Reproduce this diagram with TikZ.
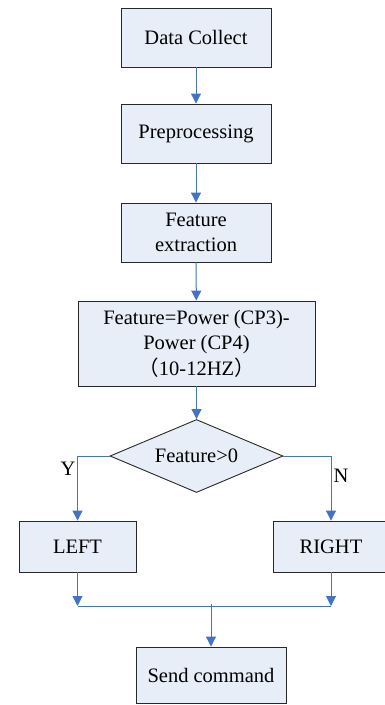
\documentclass[tikz,border=0pt]{standalone}
\usepackage{fontspec}
\setmainfont{Liberation Serif}
\newfontfamily\cjk{Noto Sans CJK SC}
\usetikzlibrary{shapes.geometric,arrows.meta}
\definecolor{boxfill}{RGB}{232,238,248}
\definecolor{boxline}{RGB}{40,40,40}
\definecolor{arr}{RGB}{68,114,196}
\tikzset{
  pbox/.style={draw=boxline, fill=boxfill, line width=0.9pt, align=center, inner sep=0pt,
    font=\fontsize{20.5}{25.5}\selectfont},
  dbox/.style={pbox, shape=diamond, aspect=2.4},
  conn/.style={draw=arr, line width=1pt},
  carr/.style={conn, -{Triangle[width=10pt,length=10pt]}},
  lbl/.style={font=\fontsize{20.5}{25.5}\selectfont, inner sep=0pt}
}
\begin{document}
\begin{tikzpicture}[x=1pt,y=-1pt]
\useasboundingbox (0,0) rectangle (385,705);
\node[pbox, minimum width=150pt, minimum height=59pt] (b1) at (196,37.5) {Data Collect};
\node[pbox, minimum width=150pt, minimum height=59pt] (b2) at (196,133.5) {Preprocessing};
\node[pbox, minimum width=150pt, minimum height=59pt] (b3) at (196,232.5) {Feature\\extraction};
\node[pbox, minimum width=237pt, minimum height=85pt] (b4) at (196.5,343.5) {Feature=Power (CP3)-\\Power (CP4)\\{\cjk （}10-12HZ{\cjk ）}};
\node[dbox, minimum width=173pt, minimum height=73pt] (d) at (196.5,456) {Feature>0};
\node[pbox, minimum width=117pt, minimum height=51pt] (L) at (77.5,546.5) {LEFT};
\node[pbox, minimum width=116pt, minimum height=51pt] (R) at (331,546.5) {RIGHT};
\node[pbox, minimum width=150pt, minimum height=56pt] (S) at (211,675) {Send command};
\node[lbl] (y) at (68,469) {Y};
\node[lbl] (n) at (341,476) {N};
\coordinate (m) at (211,606);
\draw[carr] (b1) -- (b2);
\draw[carr] (b2) -- (b3);
\draw[carr] (b3) -- (b4);
\draw[carr] (b4) -- (d);
\draw[carr] (d.west) -| (L.north);
\draw[carr] (d.east) -| (R.north);
\draw[carr] (L.south) -- (L.south |- m);
\draw[carr] (R.south) -- (R.south |- m);
\draw[conn] (L.south |- m) -- (R.south |- m);
\draw[carr] ([yshift=2pt]m) -- (S.north);
\end{tikzpicture}
\end{document}
